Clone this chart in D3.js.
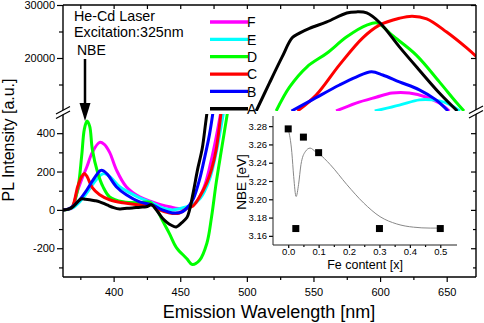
<!DOCTYPE html>
<html>
<head>
<meta charset="utf-8">
<script src="https://cdn.jsdelivr.net/npm/d3@7"></script>
<style>
  body { margin: 0; background: #fff; }
  text { font-family: Arial, "Liberation Sans", sans-serif; }
</style>
</head>
<body>
<div class="pl-chart"></div>
<script>
// series names, legend order top -> bottom
const legendOrder = ["F", "E", "D", "C", "B", "A"]
const seriesColor = { A: "#000000", B: "#0000ff", C: "#ff0000", D: "#00ff00", E: "#00ffff", F: "#ff00ff" }

// lower panel (intensity -350..500), [wavelength nm, PL a.u.]
const lowA = [[362,0],[366,4],[369.5,16],[373,42],[376,58],[379,55],[382,53],[386,48],[389.5,42],[395,26],[400,12],[404.5,5],[410,8],[414,10],[420,14],[424.5,16],[428.5,26],[432,0],[436.5,-42],[440,-65],[443,-79],[447,-89],[451,-68],[455,-40],[457,0],[460,100],[463,210],[466.5,320],[469,450],[470.5,530]]
const lowB = [[362,0],[366,4],[369,16],[374.5,53],[380,105],[384,150],[388,190],[390,205],[392,205],[395.5,184],[402,121],[409.5,79],[419.5,42],[429,26],[436.5,0],[444,-16],[451.5,-10],[457,26],[460,60],[464.5,158],[468,263],[472,395],[475,530]]
const lowC = [[362,0],[366,4],[369,16],[373,121],[376,174],[378,190],[380,175],[384,116],[389.5,79],[397,53],[407,37],[419.5,26],[428.5,26],[434.5,0],[442,-16],[449.5,-16],[455.5,10],[459.5,20],[464.5,68],[470,142],[473.5,211],[477,316],[481,530]]
const lowD = [[362,0],[366,3],[369,16],[373,105],[376,280],[378,420],[380,463],[382,437],[384,316],[388,195],[392,121],[397,68],[407,42],[419.5,37],[427,40],[432,5],[437,-60],[442,-125],[447,-195],[455,-255],[459,-285],[464.5,-263],[470,-174],[473.5,-37],[477,142],[481,316],[486,530]]
const lowE = [[362,0],[366,4],[369,10],[374.5,42],[380,90],[385,140],[390,180],[393,190],[398,168],[404.5,121],[412,90],[419.5,63],[429,37],[436.5,10],[444,0],[451.5,10],[459,26],[465,60],[472,160],[477,300],[483,530]]
const lowF = [[362,0],[366,4],[369,10],[372,80],[376,158],[380,226],[384,300],[389.5,352],[393,342],[397,300],[402,210],[409.5,121],[419.5,68],[429,42],[436,26],[442,16],[452,5],[457,16],[462,40],[468,120],[473,250],[477,380],[481,530]]

// upper panel (intensity 10000..30000)
const upA = [[507,10000],[517,15300],[526.5,20200],[534,23800],[539.5,24700],[547,25600],[560,26800],[575,28500],[582,28700],[590,28500],[600,26600],[614.5,22100],[629.5,17700],[644.5,13400],[658,10000]]
const upB = [[533.5,10000],[549,12100],[569.5,14900],[582,16400],[593.5,17400],[602,16800],[614.5,15500],[629.5,14000],[642,12100],[651,10000]]
const upC = [[538,10000],[552,13000],[569.5,18700],[587,23800],[599.5,26200],[614.5,27500],[624,27900],[635,27400],[650,24900],[665,21900],[673,20100]]
const upD = [[522,10000],[532,14500],[545,18300],[560,20900],[575,24000],[590,26200],[598,26600],[609,24300],[627,20600],[644.5,15500],[657,11700],[663,10000]]
const upE = [[596,10000],[614.5,11100],[629.5,12100],[639,12100],[650,11500],[660,10000]]
const upF = [[567,10000],[582,11500],[597,12600],[609,13400],[622,13400],[635,12600],[644.5,11500],[652,10000]]

const lowData = { A: lowA, B: lowB, C: lowC, D: lowD, E: lowE, F: lowF }
const upData = { A: upA, B: upB, C: upC, D: upD, E: upE, F: upF }

// ticks
const xMajor = [400, 450, 500, 550, 600, 650]
const xMinor = [375, 425, 475, 525, 575, 625]
const yUpMajor = [20000, 30000]
const yUpMinor = [15000, 25000]
const yLowMajor = [-200, 0, 200, 400]
const yLowMinor = [-300, -100, 100, 300]

// inset: NBE position vs Fe content
const feContent = [0.0, 0.025, 0.05, 0.1, 0.3, 0.5]
const nbeEnergy = [3.277, 3.168, 3.268, 3.251, 3.168, 3.168]
const fitFe = [0, 0.012, 0.018, 0.026, 0.034, 0.042, 0.056, 0.072, 0.09, 0.1, 0.138, 0.193, 0.248, 0.302, 0.357, 0.412, 0.467, 0.5]
const fitNbe = [3.277, 3.251, 3.225, 3.203, 3.216, 3.238, 3.252, 3.256, 3.252, 3.250, 3.238, 3.216, 3.196, 3.181, 3.173, 3.1695, 3.1685, 3.1685]
const insetXTicks = [0, 0.1, 0.2, 0.3, 0.4, 0.5]
const insetYTicks = [3.16, 3.18, 3.20, 3.22, 3.24, 3.26, 3.28]

const width = 484
const height = 323
const svg = d3.select(".pl-chart").append("svg")
    .attr("width", width)
    .attr("height", height)
    .attr("viewBox", [0, 0, width, height])

// scales (broken y axis: two panels)
const x = d3.scaleLinear().domain([362, 672]).range([63, 476])
const yUp = d3.scaleLinear().domain([10000, 30000]).range([111, 5])
const yLow = d3.scaleLinear().domain([-350, 500]).range([277, 114])

const defs = svg.append("defs")
defs.append("clipPath").attr("id", "clipUp").append("rect")
    .attr("x", 63).attr("y", 5).attr("width", 413).attr("height", 106)
defs.append("clipPath").attr("id", "clipLow").append("rect")
    .attr("x", 63).attr("y", 114).attr("width", 413).attr("height", 163)

const lineUp = d3.line().x(d => x(d[0])).y(d => yUp(d[1])).curve(d3.curveCatmullRom)
const lineLow = d3.line().x(d => x(d[0])).y(d => yLow(d[1])).curve(d3.curveCatmullRom)

const drawOrder = ["F", "E", "D", "C", "B", "A"]
const gUp = svg.append("g").attr("clip-path", "url(#clipUp)")
const gLow = svg.append("g").attr("clip-path", "url(#clipLow)")
drawOrder.forEach(k => {
    gUp.append("path").datum(upData[k]).attr("d", lineUp)
        .attr("fill", "none").attr("stroke", seriesColor[k]).attr("stroke-width", 3)
    gLow.append("path").datum(lowData[k]).attr("d", lineLow)
        .attr("fill", "none").attr("stroke", seriesColor[k]).attr("stroke-width", 3)
})

// axis helper
function addAxis(gen, tr, values, size, fmt, fontSize, pad) {
    const g = svg.append("g").attr("transform", tr)
        .call(gen.tickValues(values).tickSize(size).tickSizeOuter(0).tickPadding(pad == null ? 2 : pad).tickFormat(fmt))
    g.select(".domain").remove()
    g.selectAll("line").attr("stroke", "#000").attr("stroke-width", 1.2)
    g.selectAll("text").attr("font-size", fontSize || 11).attr("fill", "#000")
        .attr("font-family", "Arial, 'Liberation Sans', sans-serif")
    return g
}
const plain = d => String(d)
const none = () => ""

// left
addAxis(d3.axisLeft(yUp), "translate(63,0)", yUpMajor, 6, plain)
addAxis(d3.axisLeft(yUp), "translate(63,0)", yUpMinor, 4, none)
addAxis(d3.axisLeft(yLow), "translate(63,0)", yLowMajor, 6, plain)
addAxis(d3.axisLeft(yLow), "translate(63,0)", yLowMinor, 4, none)
// right (inward)
addAxis(d3.axisRight(yUp), "translate(476,0)", yUpMajor, -5, none)
addAxis(d3.axisRight(yUp), "translate(476,0)", yUpMinor, -3, none)
addAxis(d3.axisRight(yLow), "translate(476,0)", yLowMajor, -5, none)
addAxis(d3.axisRight(yLow), "translate(476,0)", yLowMinor, -3, none)
// bottom
addAxis(d3.axisBottom(x), "translate(0,277)", xMajor, 5, plain).selectAll("text").attr("dy", "1.05em")
addAxis(d3.axisBottom(x), "translate(0,277)", xMinor, 3, none)
// top (inward)
addAxis(d3.axisTop(x), "translate(0,5)", xMajor.concat(xMinor), -4, none)

// frame
const frame = svg.append("g").attr("stroke", "#000").attr("stroke-width", 1.4)
frame.append("line").attr("x1", 63).attr("x2", 476).attr("y1", 5).attr("y2", 5)
frame.append("line").attr("x1", 63).attr("x2", 476).attr("y1", 277).attr("y2", 277)
frame.append("line").attr("x1", 63).attr("x2", 63).attr("y1", 5).attr("y2", 277)
frame.append("line").attr("x1", 476).attr("x2", 476).attr("y1", 5).attr("y2", 277)

// axis break marks
function breakMark(cx, cy) {
    svg.append("polygon")
        .attr("points", [[cx - 7, cy + 2.5], [cx + 7, cy - 5], [cx + 7, cy - 1], [cx - 7, cy + 6.5]].join(" "))
        .attr("fill", "#fff")
    ;[-0.5, 4].forEach(o => {
        svg.append("line").attr("x1", cx - 7).attr("y1", cy + 3 + o)
            .attr("x2", cx + 7).attr("y2", cy - 4.5 + o)
            .attr("stroke", "#000").attr("stroke-width", 1.2)
    })
}
breakMark(63, 111.5)
breakMark(476, 111)

// axis titles
svg.append("text").attr("x", 269).attr("y", 318).attr("text-anchor", "middle")
    .attr("font-size", 18).text("Emission Wavelength [nm]")
svg.append("text").attr("transform", "translate(14,140) rotate(-90)").attr("text-anchor", "middle")
    .attr("font-size", 16).text("PL Intensity [a.u.]")

// annotations
svg.append("text").attr("x", 74).attr("y", 20.5).attr("font-size", 14.3).text("He-Cd Laser")
svg.append("text").attr("x", 74).attr("y", 37).attr("font-size", 14.3).text("Excitation:325nm")
svg.append("text").attr("x", 77).attr("y", 55).attr("font-size", 14).text("NBE")
svg.append("line").attr("x1", 85).attr("x2", 85).attr("y1", 59).attr("y2", 105)
    .attr("stroke", "#000").attr("stroke-width", 2.5)
svg.append("polygon").attr("points", "79.5,103 90.5,103 85,121").attr("fill", "#000")

// legend
const legend = svg.append("g")
legendOrder.forEach((k, i) => {
    const ly = 22 + i * 17.35
    legend.append("line").attr("x1", 210).attr("x2", 248).attr("y1", ly).attr("y2", ly)
        .attr("stroke", seriesColor[k]).attr("stroke-width", 3.3)
    legend.append("text").attr("x", 247).attr("y", ly + 5.3).attr("font-size", 14).text(k)
})

// inset
const xi = d3.scaleLinear().domain([-0.05, 0.555]).range([273, 457])
const yi = d3.scaleLinear().domain([3.15, 3.29]).range([245, 117])

addAxis(d3.axisLeft(yi), "translate(273,0)", insetYTicks, 4, d3.format(".2f"), 9.5)
addAxis(d3.axisBottom(xi), "translate(0,245)", insetXTicks, 3, d3.format(".1f"), 9.5, 1)
    .selectAll("text").attr("dy", "0.6em")
addAxis(d3.axisBottom(xi), "translate(0,245)", [0.05, 0.15, 0.25, 0.35, 0.45], 2, none)
svg.append("line").attr("x1", 273).attr("x2", 273).attr("y1", 116).attr("y2", 245)
    .attr("stroke", "#222").attr("stroke-width", 1)
svg.append("line").attr("x1", 273).attr("x2", 457).attr("y1", 245).attr("y2", 245)
    .attr("stroke", "#222").attr("stroke-width", 1)

const fitLine = d3.line().x((d, i) => xi(fitFe[i])).y(d => yi(d)).curve(d3.curveMonotoneX)
svg.append("path").datum(fitNbe).attr("d", fitLine)
    .attr("fill", "none").attr("stroke", "#888").attr("stroke-width", 1)

svg.append("g").selectAll("rect")
    .data(feContent.map((f, i) => [f, nbeEnergy[i]]))
    .join("rect")
    .attr("x", d => xi(d[0]) - 3.5)
    .attr("y", d => yi(d[1]) - 3.5)
    .attr("width", 7).attr("height", 7)
    .attr("fill", "#000")

svg.append("text").attr("transform", "translate(246,182) rotate(-90)").attr("text-anchor", "middle")
    .attr("font-size", 13.5).text("NBE [eV]")
svg.append("text").attr("x", 365).attr("y", 268.5).attr("text-anchor", "middle")
    .attr("font-size", 12.5).text("Fe content [x]")
</script>
</body>
</html>
